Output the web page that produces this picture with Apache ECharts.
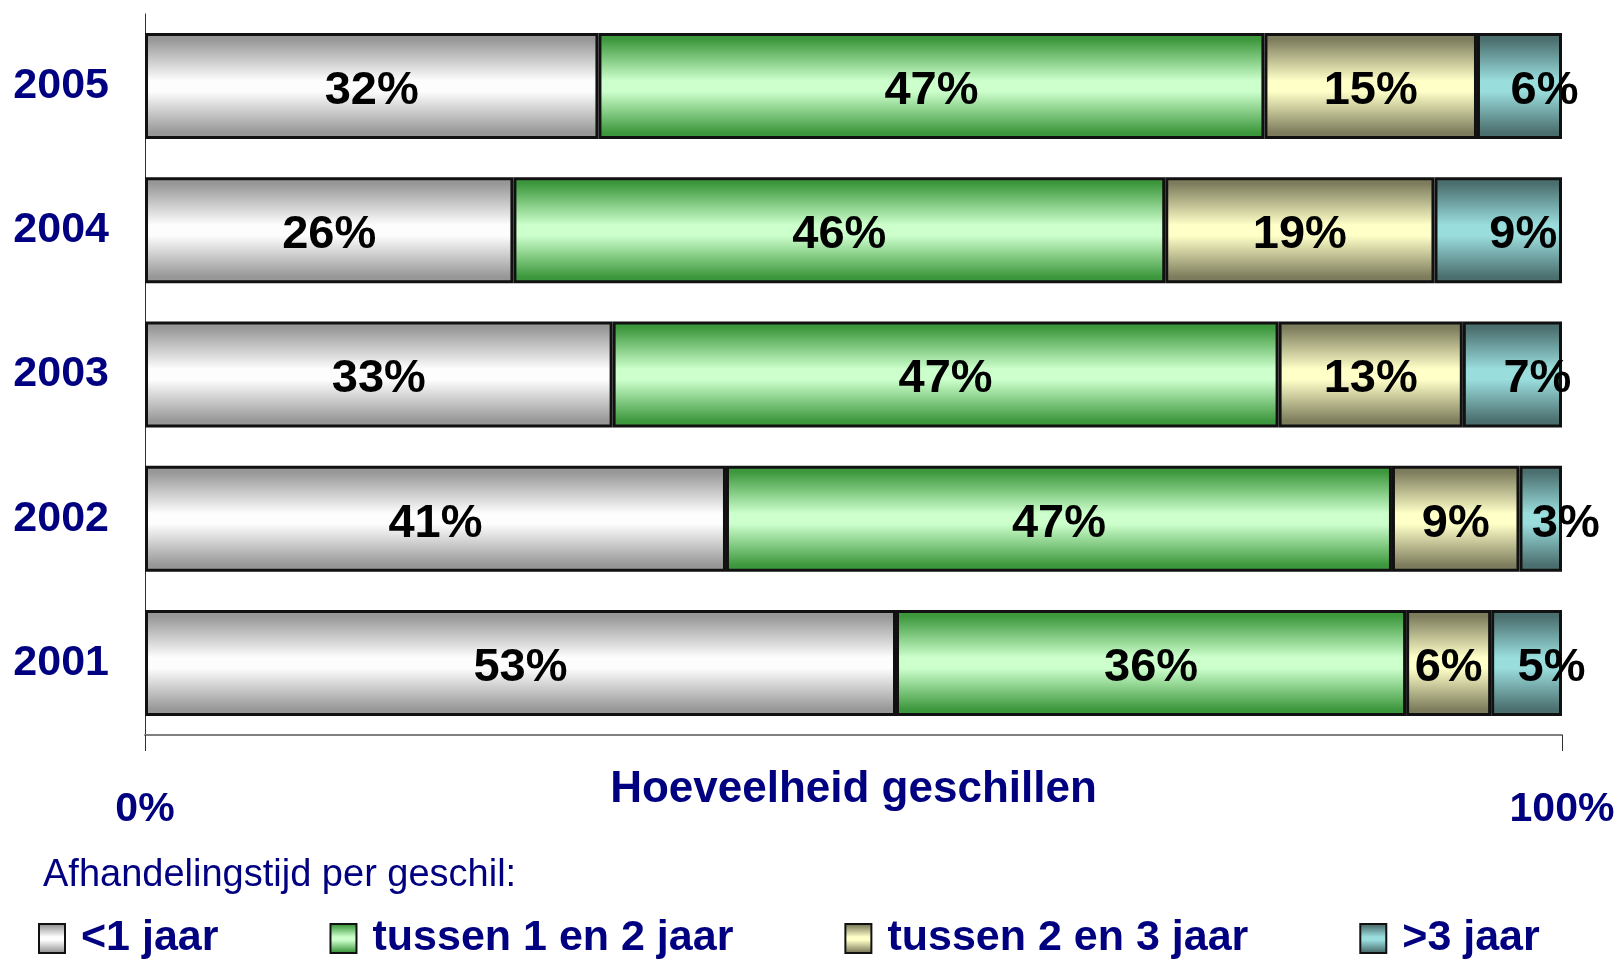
<!DOCTYPE html>
<html>
<head>
<meta charset="utf-8">
<script src="https://cdn.jsdelivr.net/npm/echarts@6/dist/echarts.min.js"></script>
<style>
  html, body { margin: 0; padding: 0; background: #fff; }
  #chart { width: 1624px; height: 960px; }
</style>
</head>
<body>
<div id="chart"></div>
<script>
const years = ['2001', '2002', '2003', '2004', '2005']
const seriesNames = ['<1 jaar', 'tussen 1 en 2 jaar', 'tussen 2 en 3 jaar', '>3 jaar']
const lessThan1 = [53, 41, 33, 26, 32]
const between1and2 = [36, 47, 47, 46, 47]
const between2and3 = [6, 9, 13, 19, 15]
const moreThan3 = [5, 3, 7, 9, 6]
const xTicks = [0, 100]

const values = [lessThan1, between1and2, between2and3, moreThan3]
// edge colour, centre colour of each bar gradient
const shades = [
  ['#979797', '#fdfdfd'],
  ['#3d983d', '#ccffcc'],
  ['#7d7d5d', '#ffffc8'],
  ['#4b6e6e', '#9adddd']
]

const navy = '#000080'
const font = 'Arial, "Liberation Sans", Helvetica, sans-serif'

function grad([edge, mid]) {
  return new echarts.graphic.LinearGradient(0, 0, 0, 1, [
    { offset: 0, color: edge },
    { offset: 0.06, color: edge },
    { offset: 0.45, color: mid },
    { offset: 0.55, color: mid },
    { offset: 0.94, color: edge },
    { offset: 1, color: edge }
  ])
}

const chart = echarts.init(document.getElementById('chart'), null, { renderer: 'canvas' })

chart.setOption({
  animation: false,
  backgroundColor: '#fff',
  textStyle: { fontFamily: font },
  title: {
    text: 'Afhandelingstijd per geschil:',
    left: 43,
    top: 857,
    padding: 0,
    textStyle: { color: navy, fontSize: 38, fontWeight: 'normal', fontFamily: font }
  },
  legend: {
    left: 38,
    top: 917,
    padding: 0,
    icon: 'rect',
    itemWidth: 26,
    itemHeight: 29,
    itemGap: 111,
    data: seriesNames,
    textStyle: { color: navy, fontSize: 43, fontWeight: 'bold', fontFamily: font, padding: [0, 0, 0, 11] }
  },
  grid: {
    left: 145,
    right: 62,
    top: 14,
    bottom: 225,
    containLabel: false
  },
  xAxis: {
    type: 'value',
    min: xTicks[0],
    max: xTicks[1],
    interval: xTicks[1] - xTicks[0],
    name: 'Hoeveelheid geschillen',
    nameLocation: 'middle',
    nameGap: 33,
    nameMoveOverlap: false,
    nameTextStyle: { color: navy, fontSize: 44, fontWeight: 'bold', fontFamily: font },
    axisLine: { show: true, lineStyle: { color: '#808080', width: 2 } },
    axisTick: { show: true, length: 16, lineStyle: { color: '#303030', width: 1 } },
    axisLabel: {
      color: navy,
      fontSize: 41,
      fontWeight: 'bold',
      fontFamily: font,
      margin: 54,
      formatter: '{value}%'
    },
    splitLine: { show: false }
  },
  yAxis: {
    type: 'category',
    data: years,
    axisLine: { show: true, lineStyle: { color: '#303030', width: 1 } },
    axisTick: { show: false },
    axisLabel: {
      color: navy,
      fontSize: 43,
      fontWeight: 'bold',
      fontFamily: font,
      margin: 36
    },
    splitLine: { show: false }
  },
  series: seriesNames.map((name, i) => ({
    name,
    type: 'bar',
    stack: 'total',
    barWidth: 106,
    data: values[i],
    itemStyle: {
      color: grad(shades[i]),
      borderColor: '#111',
      borderWidth: 3
    },
    label: {
      show: true,
      position: 'inside',
      offset: i === 3 ? [25, 5] : [0, 5],
      formatter: '{c}%',
      color: '#000',
      fontSize: 47,
      fontWeight: 'bold',
      fontFamily: font
    }
  }))
})
</script>
</body>
</html>
